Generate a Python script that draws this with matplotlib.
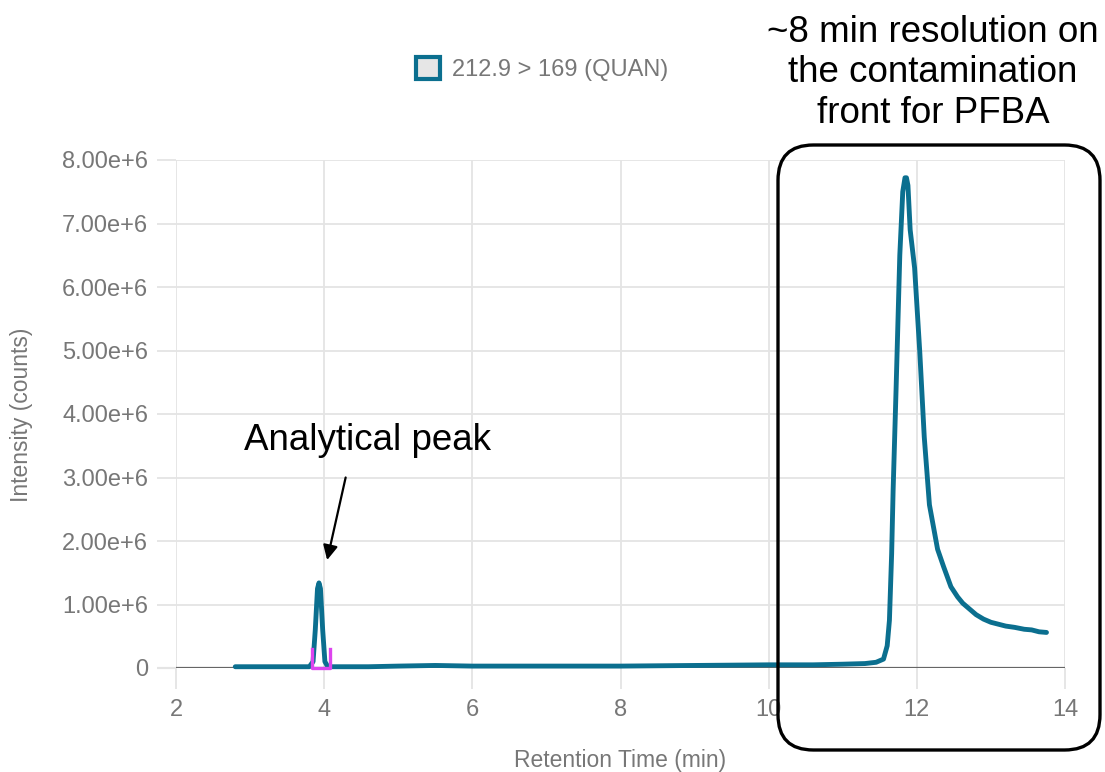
"""Extracted ion chromatogram for PFBA with the contamination front highlighted."""

import matplotlib

matplotlib.use("Agg")
import matplotlib.pyplot as plt
from matplotlib.patches import FancyBboxPatch, Patch

# retention time (min) and intensity (1e6 counts) of the 212.9 > 169 trace
RT_MIN = [
    2.80, 3.20, 3.60, 3.80, 3.85, 3.88, 3.91, 3.93, 3.95, 3.98, 4.01, 4.05,
    4.20, 4.60, 5.00, 5.50, 6.00, 7.00, 8.00, 9.00, 10.00, 10.60, 11.00,
    11.30, 11.45, 11.55, 11.60, 11.63, 11.66, 11.68, 11.72, 11.77, 11.81,
    11.84, 11.86, 11.88, 11.91, 11.94, 11.97, 12.04, 12.10, 12.17, 12.28,
    12.36, 12.46, 12.55, 12.62, 12.68, 12.73, 12.80, 12.90, 13.00, 13.10,
    13.20, 13.32, 13.45, 13.55, 13.65, 13.75,
]
INTENSITY_M = [
    0.02, 0.02, 0.02, 0.02, 0.10, 0.60, 1.25, 1.34, 1.25, 0.60, 0.10, 0.02,
    0.02, 0.02, 0.03, 0.04, 0.03, 0.03, 0.03, 0.04, 0.05, 0.05, 0.06,
    0.07, 0.09, 0.14, 0.35, 0.75, 1.80, 2.80, 4.40, 6.50, 7.50,
    7.72, 7.72, 7.60, 6.90, 6.60, 6.30, 4.97, 3.64, 2.57, 1.87,
    1.60, 1.28, 1.12, 1.02, 0.96, 0.91, 0.84, 0.77, 0.72, 0.69,
    0.66, 0.64, 0.61, 0.60, 0.57, 0.56,
]

# integration window of the analytical peak (min) and marker height (1e6)
PEAK_START = 3.83
PEAK_END = 4.08
MARKER_HEIGHT = 0.30

X_TICKS = [2, 4, 6, 8, 10, 12, 14]
Y_TICKS = [0, 1, 2, 3, 4, 5, 6, 7, 8]
Y_TICK_LABELS = ["0"] + [f"{v:.2f}e+6" for v in Y_TICKS[1:]]

LEGEND_LABEL = "212.9 > 169 (QUAN)"
PEAK_LABEL = "Analytical peak"
FRONT_LABEL = "~8 min resolution on\nthe contamination\nfront for PFBA"

TRACE_COLOR = "#0b6f8f"
MARKER_COLOR = "#dd44ee"
TEXT_GRAY = "#777777"
GRID_GRAY = "#e4e4e4"

plt.rcParams["font.family"] = ["Liberation Sans", "DejaVu Sans"]

fig = plt.figure(figsize=(11.05, 7.72), dpi=100)
ax = fig.add_axes([176 / 1105, 1 - 668 / 772, 889 / 1105, 508 / 772])

ax.plot(RT_MIN, [v * 1e6 for v in INTENSITY_M],
        color=TRACE_COLOR, lw=3.5, solid_capstyle="round",
        solid_joinstyle="round", zorder=4, clip_on=False)
ax.plot([PEAK_START, PEAK_START, PEAK_END, PEAK_END],
        [MARKER_HEIGHT * 1e6, 0, 0, MARKER_HEIGHT * 1e6],
        color=MARKER_COLOR, lw=2.4, zorder=5, clip_on=False)

ax.set_xlim(X_TICKS[0], X_TICKS[-1])
ax.set_ylim(0, Y_TICKS[-1] * 1e6)
ax.set_xticks(X_TICKS)
ax.set_xticklabels([str(v) for v in X_TICKS])
ax.set_yticks([v * 1e6 for v in Y_TICKS])
ax.set_yticklabels(Y_TICK_LABELS)

for side in ax.spines.values():
    side.set_visible(False)
ax.grid(True, color=GRID_GRAY, lw=1.3, zorder=0)
ax.set_axisbelow(True)
ax.tick_params(axis="y", length=13.5, width=1.3, color=GRID_GRAY,
               pad=6.5, labelsize=17, labelcolor=TEXT_GRAY)
ax.tick_params(axis="x", length=15, width=1.3, color=GRID_GRAY,
               pad=7, labelsize=17, labelcolor=TEXT_GRAY)
zero_tick = ax.yaxis.get_major_ticks()[0]
zero_tick.tick1line.set_color("#666666")
zero_tick.tick1line.set_markeredgewidth(1.6)
ax.axhline(0, color="#666666", lw=1.6, zorder=3)

fig.text(22 / 1105, 1 - 415 / 772, "Intensity (counts)", rotation=90,
         ha="center", va="center", fontsize=16.5, color=TEXT_GRAY)
fig.text(620 / 1105, 1 - 760 / 772, "Retention Time (min)",
         ha="center", va="center", fontsize=16.5, color=TEXT_GRAY)

handle = Patch(facecolor="#e6e6e6", edgecolor=TRACE_COLOR, linewidth=3)
ax.legend(handles=[handle], labels=[LEGEND_LABEL], loc="center",
          bbox_to_anchor=(542 / 1105, 1 - 69 / 772),
          bbox_transform=fig.transFigure, frameon=False, fontsize=17,
          labelcolor=TEXT_GRAY, handlelength=1.05, handleheight=1.05,
          handletextpad=0.5)

# callout for the analytical peak
ax.text(4.59, 3.59e6, PEAK_LABEL, ha="center", va="center", fontsize=26.5,
        color="black", zorder=6)
ax.annotate("", xy=(4.04, 1.70e6), xytext=(4.29, 3.0e6),
            arrowprops=dict(arrowstyle="-|>", color="black", lw=1.6,
                            mutation_scale=22, shrinkA=0, shrinkB=0),
            zorder=6)

# rounded frame around the contamination front
box = FancyBboxPatch((778 / 1105, 1 - 750 / 772), 322 / 1105, 605 / 772,
                     boxstyle="round,pad=0,rounding_size=0.032",
                     mutation_aspect=1105 / 772, transform=fig.transFigure,
                     facecolor="none", edgecolor="black", lw=2.4, zorder=7)
fig.patches.append(box)
fig.text(933 / 1105, 1 - 73 / 772, FRONT_LABEL, ha="center", va="center",
         fontsize=26.5, color="black", linespacing=1.2)

fig.savefig("out.png", dpi=100)
